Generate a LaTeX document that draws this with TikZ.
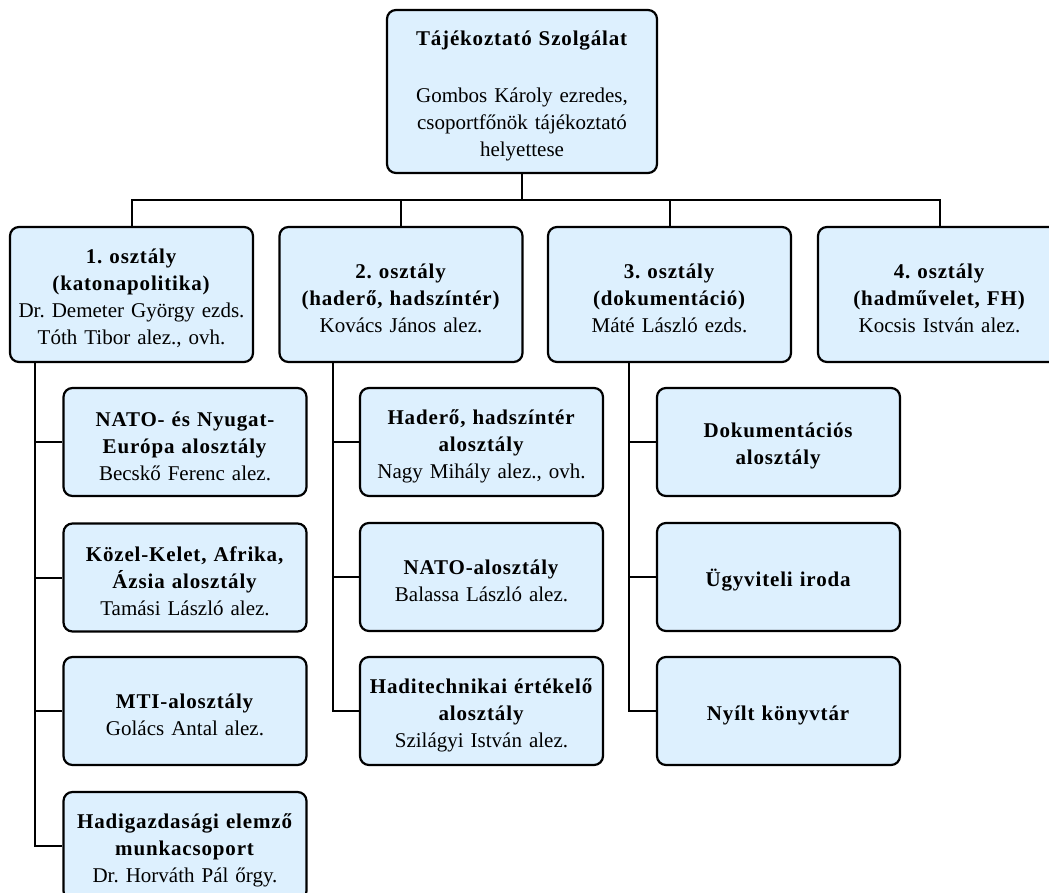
\documentclass[tikz,border=0pt]{standalone}
\usepackage{fontspec}
\setmainfont{Liberation Serif}[BoldFeatures={LetterSpace=4}]
\definecolor{boxfill}{RGB}{221,240,254}
\frenchspacing
\begin{document}
\begin{tikzpicture}[x=1pt,y=1pt,
  orgbox/.style={draw=black, line width=2.2pt, fill=boxfill, rounded corners=9pt,
    inner sep=0pt, text width=243pt, minimum height=108pt, align=center,
    font=\fontsize{21}{27}\selectfont,
    execute at begin node={\rule{0pt}{23pt}}},
  headbox/.style={orgbox, minimum height=135pt},
  topbox/.style={orgbox, text width=270pt, minimum height=163pt},
  link/.style={draw=black, line width=2pt}]
\clip (0,0) rectangle (1049,-892);
\useasboundingbox (0,0) rectangle (1049,-892);
% top
\node[topbox] (top) at (522,-91.5) {\textbf{Tájékoztató Szolgálat}\\[30pt]Gombos Károly ezredes,\\csoportfőnök tájékoztató\\helyettese};
% departments
\node[headbox] (c1) at (131.5,-294.5) {\textbf{1. osztály}\\\textbf{(katonapolitika)}\\Dr. Demeter György ezds.\\Tóth Tibor alez., ovh.};
\node[headbox] (c2) at (401,-294.5) {\textbf{2. osztály}\\\textbf{(haderő, hadszíntér)}\\Kovács János alez.};
\node[headbox] (c3) at (669.5,-294.5) {\textbf{3. osztály}\\\textbf{(dokumentáció)}\\Máté László ezds.};
\node[headbox] (c4) at (939.5,-294.5) {\textbf{4. osztály}\\\textbf{(hadművelet, FH)}\\Kocsis István alez.};
% column 1
\node[orgbox] (s11) at (185,-442) {\textbf{NATO- és Nyugat-}\\\textbf{Európa alosztály}\\Becskő Ferenc alez.};
\node[orgbox] (s12) at (185,-577.5) {\textbf{Közel-Kelet, Afrika,}\\\textbf{Ázsia alosztály}\\Tamási László alez.};
\node[orgbox] (s13) at (185,-711) {\textbf{MTI-alosztály}\\Golács Antal alez.};
\node[orgbox] (s14) at (185,-846) {\textbf{Hadigazdasági elemző}\\\textbf{munkacsoport}\\Dr. Horváth Pál őrgy.};
% column 2
\node[orgbox] (s21) at (481.5,-442) {\textbf{Haderő, hadszíntér}\\\textbf{alosztály}\\Nagy Mihály alez., ovh.};
\node[orgbox] (s22) at (481.5,-577) {\textbf{NATO-alosztály}\\Balassa László alez.};
\node[orgbox] (s23) at (481.5,-711) {\textbf{Haditechnikai értékelő}\\\textbf{alosztály}\\Szilágyi István alez.};
% column 3
\node[orgbox] (s31) at (778.5,-442) {\textbf{Dokumentációs}\\\textbf{alosztály}};
\node[orgbox] (s32) at (778.5,-577) {\textbf{Ügyviteli iroda}};
\node[orgbox] (s33) at (778.5,-711) {\textbf{Nyílt könyvtár}};
% bus
\coordinate (bus) at (0,-200);
\draw[link] (top.south) -- (top.south |- bus);
\draw[link] (c1.north) -- (c1.north |- bus) -- (c4.north |- bus) -- (c4.north);
\draw[link] (c2.north) -- (c2.north |- bus);
\draw[link] (c3.north) -- (c3.north |- bus);
% column spines
\coordinate (k1) at ([xshift=26pt]c1.south west);
\coordinate (k2) at ([xshift=55pt]c2.south west);
\coordinate (k3) at ([xshift=82pt]c3.south west);
\draw[link] (k1) |- (s14.west);
\draw[link] (k1 |- s11.west) -- (s11.west);
\draw[link] (k1 |- s12.west) -- (s12.west);
\draw[link] (k1 |- s13.west) -- (s13.west);
\draw[link] (k2) |- (s23.west);
\draw[link] (k2 |- s21.west) -- (s21.west);
\draw[link] (k2 |- s22.west) -- (s22.west);
\draw[link] (k3) |- (s33.west);
\draw[link] (k3 |- s31.west) -- (s31.west);
\draw[link] (k3 |- s32.west) -- (s32.west);
\end{tikzpicture}
\end{document}
